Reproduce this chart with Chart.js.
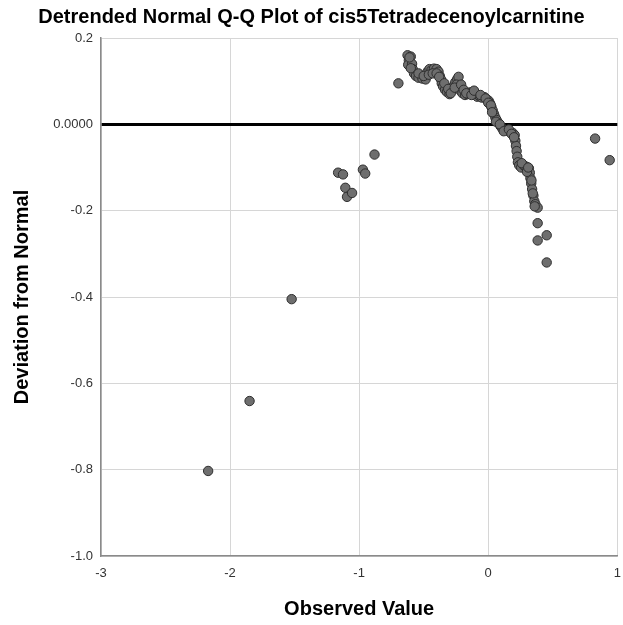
<!DOCTYPE html>
<html>
<head>
<meta charset="utf-8">
<script src="https://cdn.jsdelivr.net/npm/chart.js@4.4.1/dist/chart.umd.min.js"></script>
<style>
  html, body { margin: 0; padding: 0; background: #fff; }
</style>
</head>
<body>
<canvas id="qq" width="623" height="625"></canvas>
<script>
const observed = [
  -2.17, -1.849, -1.523,
  -1.163, -1.125, -1.107, -1.094, -1.055, -0.971, -0.953, -0.881,
  -0.696, -0.625, -0.600, -0.615, -0.620, -0.590, -0.585, -0.575, -0.560, -0.540,
  -0.510, -0.485, -0.470, -0.455, -0.440, -0.420, -0.400, -0.385, -0.375, -0.365,
  -0.360, -0.350, -0.335, -0.320, -0.300, -0.285, -0.270, -0.255, -0.240, -0.230,
  -0.245, -0.225, -0.215, -0.200, -0.180, -0.160, -0.140, -0.120, -0.100, -0.085,
  -0.070, -0.050, -0.030, -0.010, 0.005, 0.015, 0.025, 0.035, 0.045, 0.055,
  0.065, 0.080, 0.095, 0.110, 0.130, 0.150, 0.170, 0.190, 0.205, 0.210,
  0.215, 0.220, 0.225, 0.230, 0.240, 0.255, 0.275, 0.295, 0.315, 0.322,
  0.327, 0.333, 0.340, 0.350, 0.357, 0.365, 0.383, 0.383, 0.383, 0.453,
  0.453, 0.828, 0.941,
  -0.610, -0.600, -0.540, -0.500, -0.460, -0.430, -0.400, -0.380, -0.340, -0.310,
  -0.290, -0.260, -0.210, -0.190, -0.170, -0.130, -0.110, -0.060, -0.020, 0.000,
  0.020, 0.030, 0.060, 0.090, 0.120, 0.160, 0.180, 0.200, 0.260, 0.300,
  0.310, 0.335, 0.345, 0.360,
];
const deviation = [
  -0.803, -0.641, -0.405,
  -0.112, -0.116, -0.147, -0.168, -0.159, -0.105, -0.114, -0.070,
  0.095, 0.160, 0.157, 0.148, 0.138, 0.140, 0.128, 0.118, 0.112, 0.108,
  0.106, 0.104, 0.122, 0.128, 0.125, 0.129, 0.128, 0.122, 0.112, 0.104,
  0.095, 0.088, 0.080, 0.075, 0.070, 0.078, 0.088, 0.098, 0.105, 0.110,
  0.092, 0.086, 0.078, 0.072, 0.068, 0.070, 0.074, 0.075, 0.070, 0.064,
  0.066, 0.062, 0.063, 0.058, 0.054, 0.048, 0.040, 0.032, 0.024, 0.016,
  0.010, 0.003, -0.004, -0.010, -0.013, -0.015, -0.017, -0.020, -0.025, -0.038,
  -0.050, -0.062, -0.075, -0.088, -0.095, -0.100, -0.095, -0.098, -0.102, -0.112,
  -0.125, -0.137, -0.150, -0.165, -0.178, -0.185, -0.193, -0.229, -0.269, -0.257,
  -0.320, -0.033, -0.083,
  0.155, 0.130, 0.118, 0.112, 0.115, 0.118, 0.118, 0.110, 0.095, 0.082,
  0.072, 0.085, 0.092, 0.080, 0.072, 0.068, 0.078, 0.068, 0.060, 0.050,
  0.044, 0.028, 0.006, 0.000, -0.016, -0.012, -0.022, -0.030, -0.090, -0.110,
  -0.100, -0.130, -0.160, -0.190,
];
const xTicks = [-3, -2, -1, 0, 1];
const yTicks = [0.2, 0, -0.2, -0.4, -0.6, -0.8, -1.0];

const points = observed.map((x, i) => ({ x, y: deviation[i] }));
const fontFamily = '"Liberation Sans", Arial, Helvetica, sans-serif';
const gridGray = '#d6d6d6';

new Chart(document.getElementById('qq').getContext('2d'), {
  type: 'scatter',
  data: {
    datasets: [{
      data: points,
      backgroundColor: '#6e6e6e',
      borderColor: '#2e2e2e',
      borderWidth: 1,
      pointRadius: 4.7,
    }],
  },
  options: {
    responsive: false,
    animation: false,
    layout: { padding: 0 },
    plugins: {
      legend: { display: false },
      tooltip: { enabled: false },
      title: {
        display: true,
        text: 'Detrended Normal Q-Q Plot of cis5Tetradecenoylcarnitine',
        color: '#000',
        font: { family: fontFamily, size: 20, weight: 'bold' },
        padding: { top: 5, bottom: 9 },
      },
    },
    scales: {
      x: {
        type: 'linear',
        min: -3,
        max: 1,
        afterBuildTicks: (s) => { s.ticks = xTicks.map((v) => ({ value: v })); },
        afterFit: (s) => {
          s.height = 69;
          s.paddingLeft = 0;
          s.paddingRight = 0;
        },
        ticks: {
          color: '#333',
          padding: 10,
          font: { family: fontFamily, size: 13 },
          callback: (v) => String(v),
        },
        grid: { color: gridGray, lineWidth: 1, drawTicks: false },
        border: { color: '#8a8a8a', width: 1.5 },
        title: {
          display: true,
          text: 'Observed Value',
          color: '#000',
          font: { family: fontFamily, size: 20, weight: 'bold' },
          padding: { top: 0, bottom: 4 },
        },
      },
      y: {
        type: 'linear',
        min: -1,
        max: 0.2,
        afterBuildTicks: (s) => { s.ticks = yTicks.map((v) => ({ value: v })); },
        afterFit: (s) => { s.width = 101; },
        ticks: {
          color: '#333',
          padding: 8,
          font: { family: fontFamily, size: 13 },
          callback: (v) => (Math.abs(v) < 1e-9 ? '0.0000' : v.toFixed(1)),
        },
        grid: {
          color: (c) => (c.tick && Math.abs(c.tick.value) < 1e-9 ? '#000' : gridGray),
          lineWidth: (c) => (c.tick && Math.abs(c.tick.value) < 1e-9 ? 3 : 1),
          drawTicks: false,
        },
        border: { color: '#8a8a8a', width: 1.5 },
        title: {
          display: true,
          text: 'Deviation from Normal',
          color: '#000',
          font: { family: fontFamily, size: 20, weight: 'bold' },
          padding: { top: 10, bottom: 0 },
        },
      },
    },
  },
});
</script>
</body>
</html>
